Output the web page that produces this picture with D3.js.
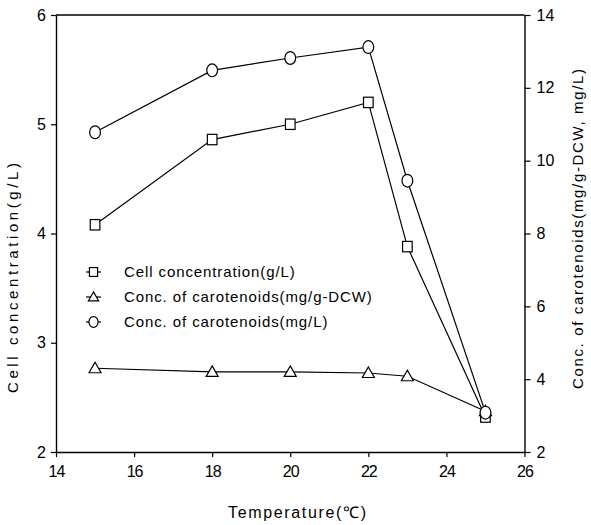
<!DOCTYPE html>
<html>
<head>
<meta charset="utf-8">
<script src="https://cdn.jsdelivr.net/npm/d3@7/dist/d3.min.js"></script>
<style>
  body { margin: 0; background: #fff; }
  svg text { font-family: "Liberation Sans", Arial, sans-serif; fill: #000; }
</style>
</head>
<body>
<svg id="chart" width="591" height="525"></svg>
<script>
// Growth temperature (°C)
const temperature = [15, 18, 20, 22, 23, 25];
// Cell concentration (g/L), left axis
const cellConc = [4.08, 4.86, 5.0, 5.2, 3.88, 2.32];
// Carotenoid content (mg/g-DCW), right axis
const carotenoidsPerDCW = [4.3, 4.2, 4.2, 4.17, 4.08, 3.12];
// Carotenoid concentration (mg/L), right axis
const carotenoidsPerL = [10.78, 12.48, 12.82, 13.12, 9.45, 3.08];

const xTicks = [14, 16, 18, 20, 22, 24, 26];
const leftTicks = [2, 3, 4, 5, 6];
const rightTicks = [2, 4, 6, 8, 10, 12, 14];

const legendLabels = [
  "Cell concentration(g/L)",
  "Conc. of carotenoids(mg/g-DCW)",
  "Conc. of carotenoids(mg/L)"
];

const svg = d3.select("#chart");
const L = 56, R = 524.5, T = 15, B = 452;

const x = d3.scaleLinear().domain([14, 26]).range([L, R]);
const yL = d3.scaleLinear().domain([2, 6]).range([B, T]);
const yR = d3.scaleLinear().domain([2, 14]).range([B, T]);

// Axes
const xAxis = svg.append("g").attr("transform", `translate(0,${B})`)
  .call(d3.axisBottom(x).tickValues(xTicks).tickFormat(d3.format("d"))
    .tickSize(5).tickPadding(9).tickSizeOuter(0));
const leftAxis = svg.append("g").attr("transform", `translate(${L},0)`)
  .call(d3.axisLeft(yL).tickValues(leftTicks).tickFormat(d3.format("d"))
    .tickSize(5).tickPadding(5).tickSizeOuter(0));
const rightAxis = svg.append("g").attr("transform", `translate(${R},0)`)
  .call(d3.axisRight(yR).tickValues(rightTicks).tickFormat(d3.format("d"))
    .tickSize(6).tickPadding(6).tickSizeOuter(0));

[xAxis, leftAxis, rightAxis].forEach(g => {
  g.select(".domain").attr("stroke", "#000").attr("stroke-width", 1.4);
  g.selectAll(".tick line").attr("stroke", "#000").attr("stroke-width", 1.2);
  g.selectAll(".tick text").attr("font-size", 16).attr("fill", "#000")
    .attr("font-family", "Liberation Sans, Arial, sans-serif");
});
xAxis.selectAll(".tick text").attr("letter-spacing", -1);

// Top frame line
svg.append("line").attr("x1", L).attr("x2", R).attr("y1", T).attr("y2", T)
  .attr("stroke", "#000").attr("stroke-width", 1.4);

// Axis titles
svg.append("text").attr("x", 297).attr("y", 518).attr("text-anchor", "middle")
  .attr("font-size", 16).attr("textLength", 138).attr("lengthAdjust", "spacing")
  .text("Temperature(℃)");
svg.append("text").attr("transform", "translate(18,278) rotate(-90)")
  .attr("text-anchor", "middle").attr("font-size", 15)
  .attr("textLength", 230).attr("lengthAdjust", "spacing")
  .text("Cell concentration(g/L)");
svg.append("text").attr("transform", "translate(583,229) rotate(-90)")
  .attr("text-anchor", "middle").attr("font-size", 15)
  .attr("textLength", 320).attr("lengthAdjust", "spacing")
  .text("Conc. of carotenoids(mg/g-DCW, mg/L)");

const lineStyle = sel => sel.attr("fill", "none").attr("stroke", "#000").attr("stroke-width", 1.2);

const series = [
  { values: cellConc, y: yL, shape: "square" },
  { values: carotenoidsPerDCW, y: yR, shape: "triangle" },
  { values: carotenoidsPerL, y: yR, shape: "circle" }
];

function drawMarker(g, shape, cx, cy, k = 1) {
  if (shape === "square") {
    g.append("rect").attr("x", cx - 4.8 * k).attr("y", cy - 5.2 * k)
      .attr("width", 9.6 * k).attr("height", 10.4 * k);
  } else if (shape === "triangle") {
    g.append("path").attr("d",
      `M${cx},${cy - 6 * k}L${cx + 6 * k},${cy + 4.5 * k}L${cx - 6 * k},${cy + 4.5 * k}Z`);
  } else {
    g.append("ellipse").attr("cx", cx).attr("cy", cy).attr("rx", 5.4 * k).attr("ry", 6.4 * k);
  }
}

series.forEach(s => {
  const pts = temperature.map((t, i) => [x(t), s.y(s.values[i])]);
  svg.append("path").attr("d", d3.line()(pts)).call(lineStyle);
});
series.forEach(s => {
  const g = svg.append("g").attr("fill", "#fff").attr("stroke", "#000").attr("stroke-width", 1.2);
  temperature.forEach((t, i) => drawMarker(g, s.shape, x(t), s.y(s.values[i])));
});

// Legend
const legendY = [272, 297, 322];
legendLabels.forEach((lab, i) => {
  const cy = legendY[i];
  svg.append("line").attr("x1", 86).attr("x2", 101).attr("y1", cy).attr("y2", cy).call(lineStyle);
  const g = svg.append("g").attr("fill", "#fff").attr("stroke", "#000").attr("stroke-width", 1.2);
  drawMarker(g, series[i].shape, 93.5, cy, 0.85);
  svg.append("text").attr("x", 124).attr("y", cy + 5).attr("font-size", 15)
    .attr("letter-spacing", 0.9).text(lab);
});
</script>
</body>
</html>
